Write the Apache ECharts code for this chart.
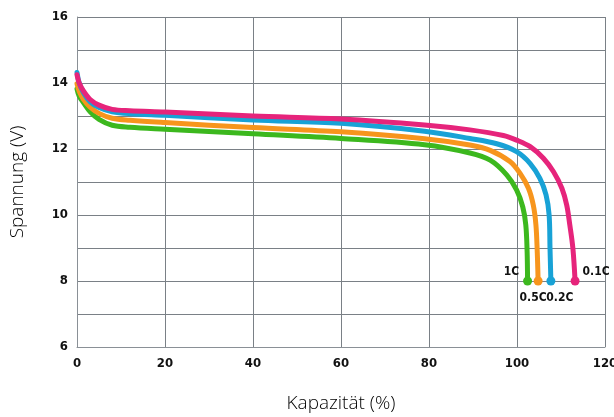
<!DOCTYPE html>
<html>
<head>
<meta charset="utf-8">
<script src="https://cdn.jsdelivr.net/npm/echarts@6/dist/echarts.min.js"></script>
<style>
html,body{margin:0;padding:0;background:#fff;overflow:hidden;}
#chart{width:614px;height:417px;}
</style>
</head>
<body>
<div id="chart"></div>
<script>
// Capacity (%) and voltage (V) for each discharge rate
const x01C = [0, 0.5, 1.5, 3, 5, 8, 12, 20, 40, 60, 79, 89.3, 96.9, 99.9, 103, 106, 108.3, 110.2, 111.3, 112.0, 112.7, 113.2];
const y01C = [14.25, 14.0, 13.75, 13.5, 13.33, 13.2, 13.16, 13.12, 13.0, 12.91, 12.73, 12.58, 12.41, 12.27, 12.07, 11.72, 11.31, 10.81, 10.3, 9.7, 8.99, 8.0];

const x02C = [0, 0.5, 1.5, 3, 5, 8, 12, 20, 40, 60, 79, 89.3, 95.4, 99.9, 103, 105.2, 106.6, 107.3, 107.5, 107.7];
const y02C = [14.32, 14.0, 13.7, 13.43, 13.26, 13.13, 13.07, 13.02, 12.88, 12.78, 12.54, 12.32, 12.16, 11.92, 11.56, 11.11, 10.61, 10.0, 9.0, 8.0];

const x05C = [0, 0.5, 1.5, 3, 5, 8, 12, 20, 40, 60, 79, 89.3, 93.9, 98.4, 100.7, 102.6, 103.7, 104.3, 104.6, 104.8];
const y05C = [13.98, 13.75, 13.5, 13.27, 13.08, 12.93, 12.87, 12.8, 12.65, 12.52, 12.31, 12.12, 11.96, 11.62, 11.26, 10.81, 10.3, 9.7, 8.89, 8.0];

const x1C = [0, 0.5, 1.5, 3, 5, 8, 12, 20, 40, 60, 79, 89.3, 93.9, 97.7, 99.9, 101.3, 102.0, 102.3, 102.4];
const y1C = [13.82, 13.6, 13.4, 13.13, 12.9, 12.72, 12.66, 12.6, 12.46, 12.32, 12.13, 11.88, 11.66, 11.21, 10.76, 10.25, 9.7, 8.89, 8.0];

const seriesNames = ['0.1C', '0.2C', '0.5C', '1C'];
const seriesColors = ['#e6247b', '#18a2d6', '#f7951d', '#3cb81e'];
const yTickLabels = [6, 8, 10, 12, 14, 16];
const xTickLabels = [0, 20, 40, 60, 80, 100, 120];

const tickFont = {fontFamily: '"DejaVu Sans Condensed", "Liberation Sans Narrow", sans-serif', fontWeight: 'bold', fontSize: 13, color: '#111'};
const endFont = {fontFamily: '"DejaVu Sans Condensed", "Liberation Sans Narrow", sans-serif', fontWeight: 'bold', fontSize: 12, color: '#111'};

const endLabelStyle = {
  '0.1C': {position: 'right', offset: [-2, -9]},
  '0.2C': {position: 'bottom', offset: [9, 1]},
  '0.5C': {position: 'bottom', offset: [-5, 1]},
  '1C': {position: 'left', offset: [1, -9]}
};

function build(xs, ys, name) {
  return xs.map((x, i) => {
    if (i === xs.length - 1) {
      return {
        value: [x, ys[i]],
        symbol: 'circle',
        symbolSize: 9,
        label: Object.assign({show: true, formatter: name}, endFont, endLabelStyle[name])
      };
    }
    return {value: [x, ys[i]], symbol: 'none'};
  });
}

const allData = [[x01C, y01C], [x02C, y02C], [x05C, y05C], [x1C, y1C]];

const chart = echarts.init(document.getElementById('chart'));
chart.setOption({
  animation: false,
  grid: {left: 77, right: 9, top: 17, bottom: 70, containLabel: false, outerBoundsMode: 'none'},
  xAxis: {
    type: 'value', min: 0, max: 120, interval: 20,
    name: 'Kapazität (%)', nameLocation: 'middle', nameGap: 47,
    nameTextStyle: {fontFamily: '"Open Sans", sans-serif', fontSize: 19, fontWeight: 300, color: '#000'},
    axisLine: {show: true, lineStyle: {color: '#8a9096', width: 1}},
    axisTick: {show: false},
    splitLine: {show: true, lineStyle: {color: '#7a8086', width: 1}},
    axisLabel: Object.assign({margin: 10, formatter: v => xTickLabels.includes(v) ? String(v) : ''}, tickFont)
  },
  yAxis: {
    type: 'value', min: 6, max: 16, interval: 1,
    name: 'Spannung (V)', nameLocation: 'middle', nameGap: 50, nameRotate: 90,
    nameTextStyle: {fontFamily: '"Open Sans", sans-serif', fontSize: 19, fontWeight: 300, color: '#000'},
    axisLine: {show: true, lineStyle: {color: '#8a9096', width: 1}},
    axisTick: {show: false},
    splitLine: {show: true, lineStyle: {color: '#7a8086', width: 1}},
    axisLabel: Object.assign({margin: 9, formatter: v => yTickLabels.includes(v) ? String(v) : ''}, tickFont)
  },
  series: seriesNames.map((name, i) => ({
    name: name,
    type: 'line',
    smooth: 0.35,
    showSymbol: true,
    symbol: 'none',
    z: 10 - i,
    color: seriesColors[i],
    lineStyle: {width: 5, color: seriesColors[i], cap: 'round', join: 'round'},
    itemStyle: {color: seriesColors[i]},
    data: build(allData[i][0], allData[i][1], name)
  }))
});
</script>
</body>
</html>
